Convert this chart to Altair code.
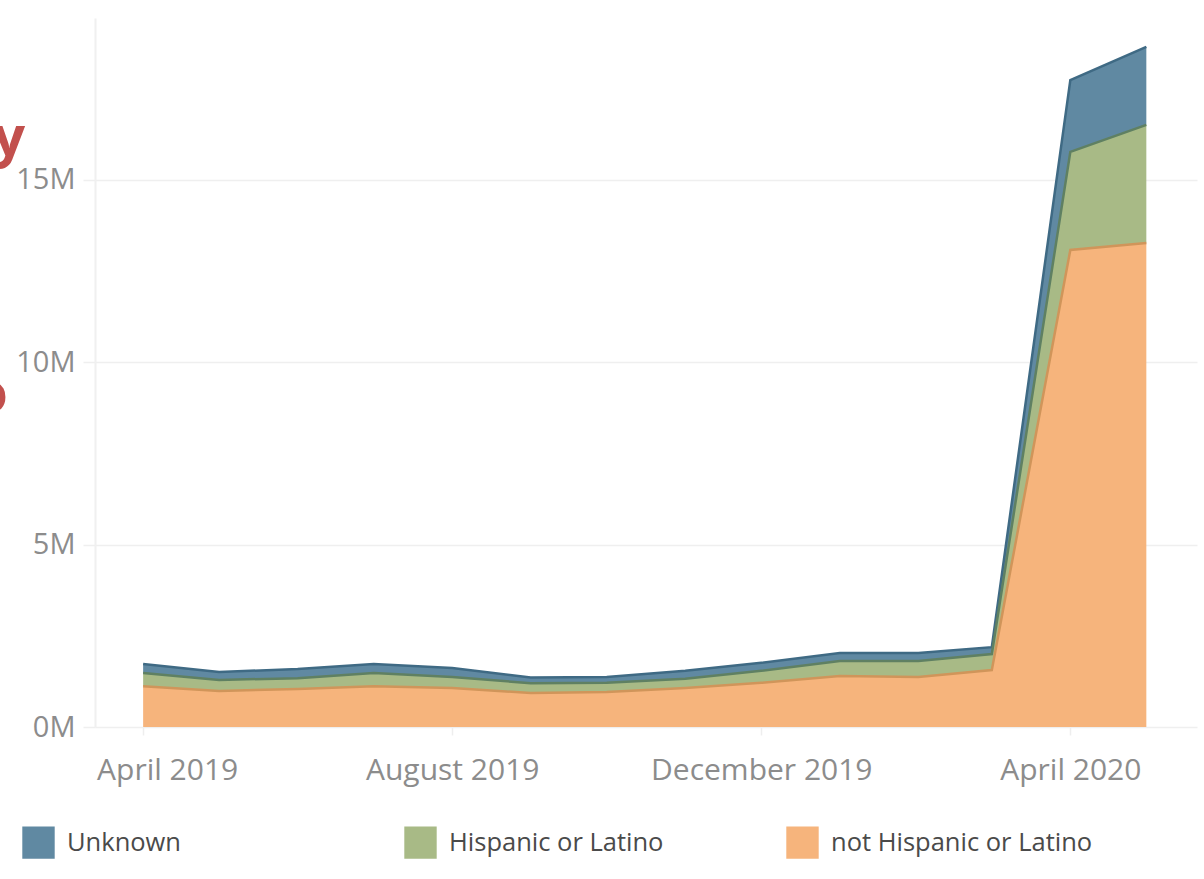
import altair as alt
import pandas as pd

# ---- data (values in millions) ----
months = ["2019-04", "2019-05", "2019-06", "2019-07", "2019-08", "2019-09", "2019-10",
          "2019-11", "2019-12", "2020-01", "2020-02", "2020-03", "2020-04", "2020-05"]
not_hispanic = [1.12, 0.99, 1.04, 1.12, 1.07, 0.93, 0.96, 1.07, 1.21, 1.40, 1.37, 1.56, 13.08, 13.27]
hispanic = [0.36, 0.30, 0.30, 0.36, 0.30, 0.27, 0.25, 0.25, 0.33, 0.41, 0.44, 0.44, 2.69, 3.24]
unknown = [0.25, 0.22, 0.25, 0.25, 0.25, 0.16, 0.16, 0.22, 0.22, 0.22, 0.22, 0.19, 1.97, 2.14]

series_names = ["Unknown", "Hispanic or Latino", "not Hispanic or Latino"]
stack_rank = [2, 1, 0]  # bottom = not Hispanic
fill_colors = ["#6089a2", "#a8ba86", "#f6b47c"]
line_colors = ["#3f6a84", "#5f8062", "#d0955a"]
x_ticks = ["2019-04", "2019-08", "2019-12", "2020-04"]
y_ticks = [0, 5, 10, 15]

rows = []
series_vals = [unknown, hispanic, not_hispanic]
for s, name in enumerate(series_names):
    for i, m in enumerate(months):
        rows.append({"month": pd.Timestamp(m + "-01"), "series": name,
                     "value": series_vals[s][i] * 1e6, "rank": stack_rank[s]})
df = pd.DataFrame(rows)

def dt(s):
    parts = s.split("-")
    d = int(parts[2]) if len(parts) == 3 else 1
    return alt.DateTime(year=int(parts[0]), month=int(parts[1]), date=d)

x_enc = alt.X(
    "month:T",
    title=None,
    scale=alt.Scale(domain=[dt("2019-03-13"), dt("2020-05-21")], nice=False),
    axis=alt.Axis(
        values=[dt(t) for t in x_ticks], format="%B %Y", grid=False, domain=False,
        ticks=True, tickColor="#eeeeee", tickSize=8, tickWidth=1.5,
        labelFont="Open Sans", labelFontSize=30, labelColor="#8c8c8c",
        labelPadding=20, labelFlush=False, labelOverlap=False, labelLimit=400,
        labelOffset=alt.condition(
            "year(datum.value) == 2019 && month(datum.value) == 3", alt.value(24), alt.value(0)
        ),
    ),
)

y_scale = alt.Scale(domain=[0, 19.44e6], nice=False)
y_axis = alt.Axis(
    values=[v * 1e6 for v in y_ticks], labelExpr="datum.value / 1000000 + 'M'",
    grid=True, gridColor="#efefef", gridWidth=1.5,
    domain=True, domainColor="#f0f0f0", domainWidth=2,
    ticks=True, tickColor="#efefef", tickSize=12, tickWidth=1.5,
    labelFont="Open Sans", labelFontSize=29, labelColor="#8c8c8c", labelPadding=8,
)

base = alt.Chart(df).transform_stack(
    stack="value", groupby=["month"], as_=["y0", "y1"],
    sort=[alt.SortField("rank", order="ascending")],
)

areas = base.mark_area(interpolate="linear", opacity=1).encode(
    x=x_enc,
    y=alt.Y("y0:Q", title=None, scale=y_scale, axis=y_axis),
    y2="y1:Q",
    color=alt.Color(
        "series:N",
        scale=alt.Scale(domain=series_names, range=fill_colors),
        legend=alt.Legend(
            title=None, orient="none", legendX=-73, legendY=808, direction="horizontal",
            columns=3, gridAlign="all", columnPadding=75, padding=0,
            symbolType="square", symbolSize=1050, symbolStrokeWidth=0, symbolOpacity=1,
            labelFont="Open Sans", labelFontSize=25.5, labelColor="#4a4a4a",
            labelOffset=12, labelLimit=400,
        ),
    ),
)

lines = base.mark_line(interpolate="linear", strokeWidth=2.5).encode(
    x=x_enc,
    y=alt.Y("y1:Q", scale=y_scale),
    stroke=alt.Stroke("series:N", scale=alt.Scale(domain=series_names, range=line_colors), legend=None),
)

frag_df = pd.DataFrame({"t": ["y"]})
frag_y = alt.Chart(frag_df).mark_text(
    font="Open Sans", fontSize=56, fontWeight="bold", color="#c2504d",
    align="right", baseline="alphabetic",
).encode(text="t:N", x=alt.value(-70), y=alt.value(138))

frag_df2 = pd.DataFrame({"t": ["o"]})
frag_o = alt.Chart(frag_df2).mark_text(
    font="Open Sans", fontSize=56, fontWeight="bold", color="#c2504d",
    align="right", baseline="alphabetic",
).encode(text="t:N", x=alt.value(-87), y=alt.value(394))

chart = alt.layer(areas, lines, frag_y, frag_o).resolve_scale(
    color="independent"
).properties(
    width=1102, height=709,
    background="white",
    autosize=alt.AutoSizeParams(type="none"),
    padding={"left": 95, "top": 18, "right": 7, "bottom": 152},
).configure_view(strokeWidth=0)

chart.save("out.html", embed_options={"renderer": "svg", "actions": False})
